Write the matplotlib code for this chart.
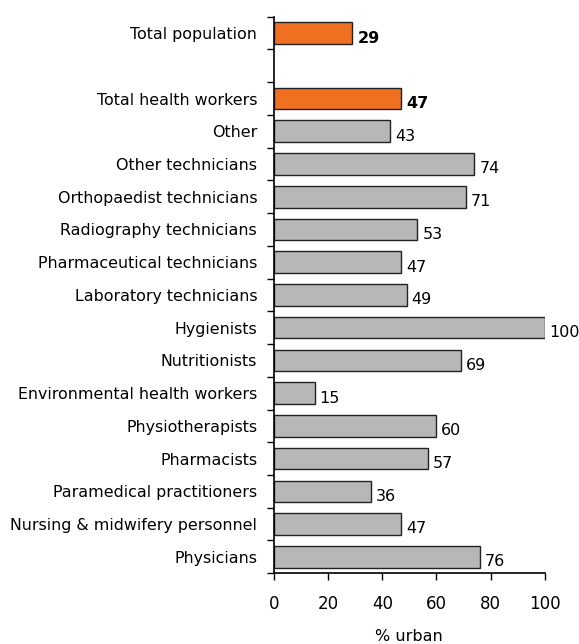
import numpy as np
import matplotlib.pyplot as plt
from matplotlib.ticker import FixedLocator

# categories from top to bottom; None = empty slot
categories = ["Total population", None, "Total health workers", "Other",
              "Other technicians", "Orthopaedist technicians",
              "Radiography technicians", "Pharmaceutical technicians",
              "Laboratory technicians", "Hygienists", "Nutritionists",
              "Environmental health workers", "Physiotherapists",
              "Pharmacists", "Paramedical practitioners",
              "Nursing & midwifery personnel", "Physicians"]
values = [29, None, 47, 43, 74, 71, 53, 47, 49, 100, 69, 15, 60, 57, 36, 47, 76]
highlight = ["Total population", "Total health workers"]

grey = "#b7b7b7"
orange = "#f07022"

fig = plt.figure(figsize=(5.79, 6.44), dpi=100)
ax = fig.add_axes([0.473, 0.110, 0.468, 0.864])

n = len(categories)
ypos = np.arange(n)[::-1]  # top slot has highest y

for y, cat, v in zip(ypos, categories, values):
    if cat is None:
        continue
    hl = cat in highlight
    ax.barh(y, v, height=0.66, color=orange if hl else grey,
            edgecolor="#222222", linewidth=1.0)
    ax.text(v + 1.8, y - 0.15, str(v), va="center", ha="left",
            fontsize=11.5, fontweight="bold" if hl else "normal", color="black")

ax.set_ylim(-0.5, n - 0.5)
ax.set_xlim(0, 100)
ax.set_xticks([0, 20, 40, 60, 80, 100])
ax.tick_params(axis="x", labelsize=12, length=5, width=1, pad=11)

ax.set_yticks([y for y, c in zip(ypos, categories) if c is not None])
ax.set_yticklabels([c for c in categories if c is not None], fontsize=11.4)
ax.tick_params(axis="y", which="major", length=0, pad=12)
ax.yaxis.set_minor_locator(FixedLocator(np.arange(-0.5, n, 1.0)))
ax.tick_params(axis="y", which="minor", length=5, width=1, direction="out")

for s in ["top", "right"]:
    ax.spines[s].set_visible(False)
for s in ["left", "bottom"]:
    ax.spines[s].set_linewidth(1.2)

ax.set_xlabel("% urban", fontsize=11.5, labelpad=11)

fig.savefig("out.png", dpi=100)
